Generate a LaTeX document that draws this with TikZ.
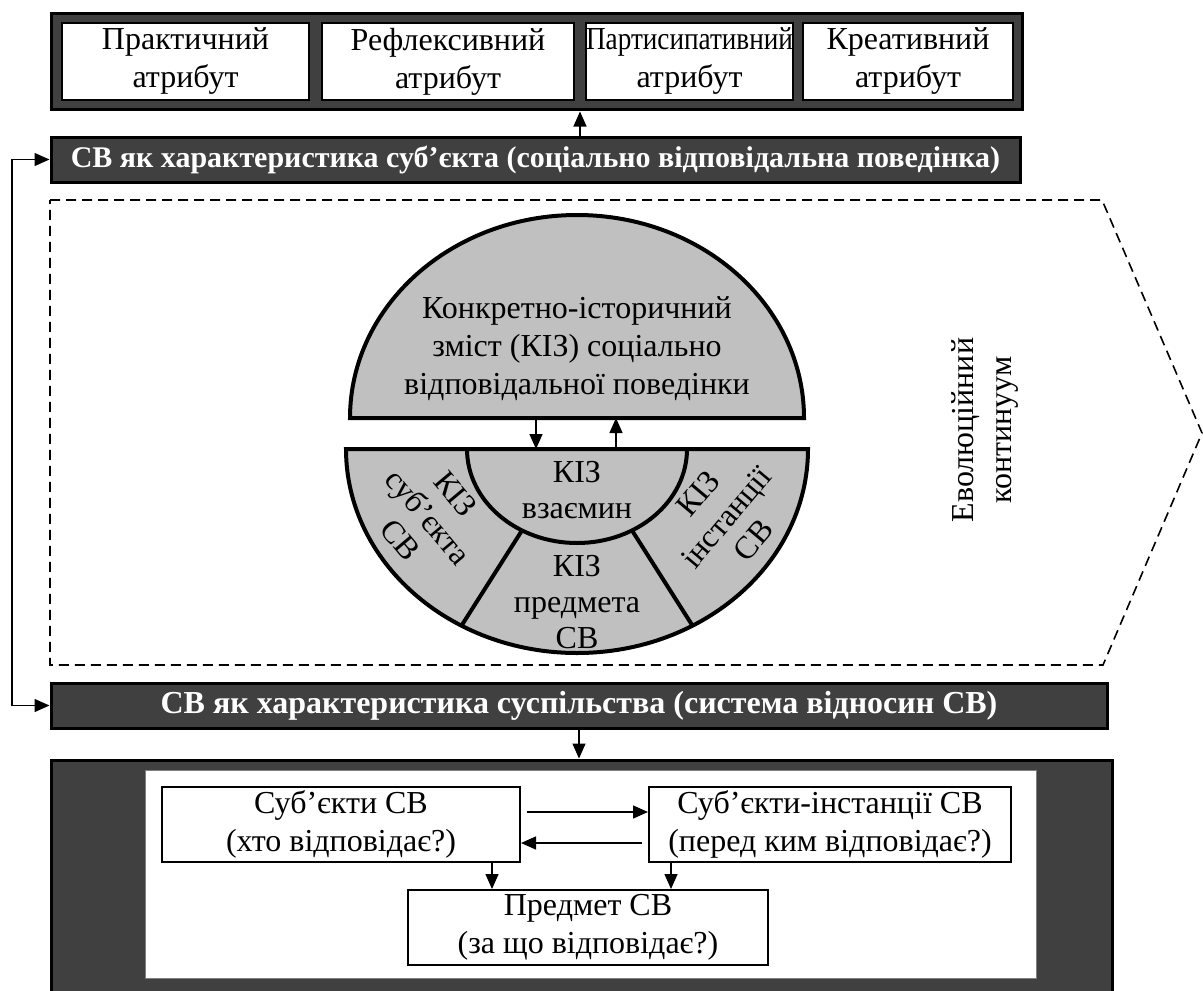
\documentclass[tikz,border=0pt]{standalone}
\usepackage{fontspec}
\setmainfont{Liberation Serif}
\usepackage{graphicx}
\usepackage{tikz}
\usetikzlibrary{arrows,arrows.meta,positioning,calc}
\definecolor{darkfill}{HTML}{404040}
\definecolor{diskfill}{HTML}{C0C0C0}
\newcommand{\txt}{\fontsize{16pt}{19pt}\selectfont}
\newcommand{\ringtxt}{\fontsize{16pt}{18pt}\selectfont}
\newcommand{\bartxt}{\fontsize{15pt}{16pt}\selectfont\bfseries}
\newcommand{\bigbartxt}{\fontsize{16pt}{18pt}\selectfont\bfseries}
\tikzset{
	holder/.style = {draw, line width=1.5pt, fill=darkfill, rectangle, inner sep=0pt},
	block/.style = {draw, line width=1pt, fill=white, rectangle, inner sep=0pt, align=center, font=\txt},
	bar/.style = {draw, line width=1.5pt, fill=darkfill, rectangle, inner sep=0pt, minimum height=22.5pt, text=white, font=\bartxt},
	panel/.style = {draw=gray, line width=0.5pt, fill=white, rectangle, inner sep=0pt},
	part/.style = {draw, line width=2pt, fill=diskfill},
	cut/.style = {draw, line width=2pt},
	seg/.style = {align=center, font=\ringtxt, inner sep=0pt},
	link/.style = {->, line width=0.7pt},
	continuum/.style = {line width=0.8pt, dash pattern=on 5pt off 3pt}
}

\begin{document}
\begin{tikzpicture}[x=0.5pt,y=-0.5pt,>={Triangle[length=7.5pt,width=6.5pt]}]
	\useasboundingbox (0,0) rectangle (1203,990);

	\node [holder, minimum width=485.5pt, minimum height=48pt] (attr) at (536.5,62) {};
	\node [block, minimum width=123.5pt, minimum height=38.5pt] (A) at (185.5,61.5) {Практичний\\атрибут};
	\node [block, right of=A, node distance=131.25pt, minimum width=126pt, minimum height=38.5pt] (B) {Рефлексивний\\атрибут};
	\node [block, right of=B, node distance=120.75pt, minimum width=103.5pt, minimum height=38.5pt] (C) {\scalebox{0.85}[1]{Партисипативний}\\атрибут};
	\node [block, right of=C, node distance=109.25pt, minimum width=105pt, minimum height=38.5pt] (D) {Креативний\\атрибут};

	\node [bar, minimum width=484.5pt] (S) at (535.5,159.5) {СВ як характеристика суб’єкта (соціально відповідальна поведінка)};
	\node [bar, font=\bigbartxt, minimum width=528pt] (T) at (579,705.5) {СВ як характеристика суспільства (система відносин СВ)};

	\coordinate (gap) at ($(B.east)!0.5!(C.west)$);
	\draw [link] (S.north -| gap) -- (attr.south -| gap);
	\coordinate (loop) at (12,159.5);
	\draw [link, <->] (S.west) -- (loop) |- (T.west);

	\draw [continuum] (50,200) -- (1102,200) -- (1202,433) -- (1103,665) -- (50,665) -- cycle;
	\node [seg, font=\txt, rotate=90] (E) at (985,430) {Еволюційний\\континуум};

	\coordinate (top) at (577,418);
	\coordinate (ring) at (577,449);
	\draw [part] (top) ++(-113.5pt,0) arc [start angle=180, end angle=0, x radius=113.5pt, y radius=101.5pt] -- cycle;
	\draw [part] (ring) ++(-115.5pt,0) arc [start angle=180, end angle=360, x radius=115.5pt, y radius=102pt] -- cycle;
	\draw [cut] (ring) ++(-55pt,0) arc [start angle=180, end angle=360, x radius=55pt, y radius=47pt];
	\foreach \a in {240,300}
		\draw [cut] ($(ring)+(\a:55pt and 47pt)$) -- ($(ring)+(\a:115.5pt and 102pt)$);

	\node [seg, font=\txt] (K) at (577,349) {Конкретно-історичний\\зміст (КІЗ) соціально\\відповідальної поведінки};
	\node [seg] (K1) at (577,490) {КІЗ\\взаємин};
	\node [seg] (K2) at (577,602) {КІЗ\\предмета\\СВ};
	\node [seg, rotate=-50] (K3) at (428,517) {КІЗ\\суб’єкта\\СВ};
	\node [seg, rotate=50] (K4) at (726,517) {КІЗ\\інстанції\\СВ};

	\draw [link] ([xshift=-20.5pt]top) -- ([xshift=-20.5pt]ring);
	\draw [link] ([xshift=19.5pt]ring) -- ([xshift=19.5pt]top);

	\node [holder, minimum width=530.5pt, minimum height=120pt] (F) at (581.5,880) {};
	\draw [link] (T.south) -- (T.south |- F.north);
	\node [panel, minimum width=445.5pt, minimum height=104pt] (G) at (590.5,874) {};
	\node [block, minimum width=179pt, minimum height=37.5pt] (H) at (341,824) {Суб’єкти СВ\\(хто відповідає?)};
	\node [block, right of=H, node distance=244.5pt, minimum width=181pt, minimum height=37.5pt] (I) {Суб’єкти-інстанції СВ\\(перед ким відповідає?)};
	\node [block, minimum width=180pt, minimum height=37.5pt] (J) at (588,927.5) {Предмет СВ\\(за що відповідає?)};

	\draw [link] ($(H.east)+(6,-12)$) -- ($(I.west)+(0,-12)$);
	\draw [link] ($(I.west)+(-6,19)$) -- ($(H.east)+(0,19)$);
	\coordinate (h) at ($(H.south)+(151,0)$);
	\coordinate (i) at ($(I.south)+(-159,0)$);
	\draw [link] (h) -- (h |- J.north);
	\draw [link] (i) -- (i |- J.north);
\end{tikzpicture}
\end{document}
